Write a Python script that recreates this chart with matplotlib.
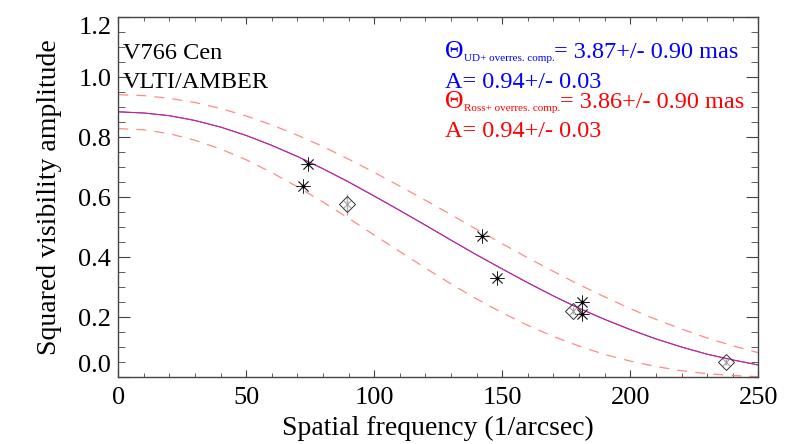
import matplotlib
matplotlib.use('Agg')
import matplotlib.pyplot as plt
from matplotlib.ticker import MultipleLocator

plt.rcParams['font.family'] = ['Liberation Serif', 'DejaVu Serif']

freq_model = list(range(0, 260, 10))
v2_fit = [0.884, 0.880, 0.871, 0.855, 0.833, 0.805, 0.772, 0.735, 0.694, 0.650,
          0.603, 0.555, 0.506, 0.456, 0.407, 0.360, 0.314, 0.270, 0.229, 0.192,
          0.158, 0.127, 0.100, 0.076, 0.057, 0.040]
v2_upper = [0.941, 0.938, 0.929, 0.915, 0.895, 0.870, 0.840, 0.806, 0.768, 0.726,
            0.682, 0.636, 0.589, 0.541, 0.492, 0.444, 0.397, 0.352, 0.308, 0.267,
            0.228, 0.192, 0.160, 0.130, 0.104, 0.081]
v2_lower = [0.828, 0.824, 0.811, 0.789, 0.760, 0.724, 0.681, 0.634, 0.583, 0.529,
            0.473, 0.418, 0.363, 0.310, 0.260, 0.214, 0.172, 0.135, 0.103, 0.075,
            0.053, 0.035, 0.021, 0.011, 0.005, 0.001]

# measured squared visibilities
ast_freq = [72.0, 74.2, 141.9, 147.8, 181.0, 181.3]
ast_v2 = [0.637, 0.709, 0.470, 0.329, 0.251, 0.210]
ast_err = [0.010, 0.008, 0.015, 0.008, 0.012, 0.010]
dia_freq = [89.5, 177.7, 237.4]
dia_v2 = [0.576, 0.221, 0.051]
dia_err = [0.035, 0.012, 0.010]

fig = plt.figure(figsize=(7.89, 4.44), dpi=100)
ax = fig.add_axes([0.1499, 0.1509, 0.8112, 0.8108])

ax.plot(freq_model, v2_upper, color='#ff8a8a', lw=0.9, dashes=(8, 6.5))
ax.plot(freq_model, v2_lower, color='#ff8a8a', lw=0.9, dashes=(8, 6.5))
ax.plot(freq_model, v2_fit, color='blue', lw=0.7)
ax.plot(freq_model, v2_fit, color='#ff2a6a', lw=0.8, alpha=0.8)

ax.errorbar(ast_freq, ast_v2, yerr=ast_err, fmt='none', ecolor='#aaaaaa', elinewidth=1)
ax.errorbar(dia_freq, dia_v2, yerr=dia_err, fmt='none', ecolor='#aaaaaa', elinewidth=1)
ax.plot(ast_freq, ast_v2, ls='none', marker=(8, 2, 0), ms=10, mew=0.6, color='#222222')
ax.plot(ast_freq, ast_v2, ls='none', marker='s', ms=2, color='black')
ax.plot(dia_freq, dia_v2, ls='none', marker='x', ms=5.5, mew=0.7, color='#999999')
ax.plot(dia_freq, dia_v2, ls='none', marker='D', ms=8, mew=0.7, mfc='none', mec='#333333')

ax.set_xlim(0, 250)
ax.set_ylim(0, 1.2)
ax.set_xticks([0, 50, 100, 150, 200, 250])
ax.set_yticks([0.0, 0.2, 0.4, 0.6, 0.8, 1.0, 1.2])
ax.set_yticklabels(['0.0', '0.2', '0.4', '0.6', '0.8', '1.0', '1.2'])
ax.xaxis.set_minor_locator(MultipleLocator(10))
ax.yaxis.set_minor_locator(MultipleLocator(0.05))
ax.tick_params(which='both', direction='in', top=True, right=True, color='#444444')
ax.tick_params(axis='x', which='major', length=5, labelsize=19, pad=7)
ax.tick_params(axis='x', which='minor', length=3)
ax.tick_params(axis='y', which='major', length=8.5, labelsize=19, pad=5)
ax.tick_params(axis='y', which='minor', length=4.7)
ylabs = ax.get_yticklabels()
ylabs[0].set_va('bottom')
ylabs[-1].set_va('top')
for sp in ax.spines.values():
    sp.set_color('#444444')
    sp.set_linewidth(1.0)

ax.set_xlabel('Spatial frequency (1/arcsec)', fontsize=20, labelpad=5)
ax.set_ylabel('Squared visibility amplitude', fontsize=20, labelpad=12)

ax.text(0.007, 0.8825, 'V766 Cen', fontsize=17.5, transform=ax.transAxes, va='baseline')
ax.text(0.007, 0.802, 'VLTI/AMBER', fontsize=17.5, transform=ax.transAxes, va='baseline')


def theta_line(y, sub, rest, col):
    t = ax.text(0.5105, y, 'Θ', color=col, fontsize=18.5, transform=ax.transAxes, va='baseline')
    s = ax.annotate(sub, xy=(1, 0), xycoords=t, color=col, fontsize=8, va='bottom', ha='left')
    ax.annotate(rest, xy=(1, 0), xycoords=(s, t), color=col, fontsize=17.5, va='bottom', ha='left')


theta_line(0.8853, 'UD+ overres. comp.', '= 3.87+/- 0.90 mas', 'blue')
ax.text(0.5105, 0.8036, 'A= 0.94+/- 0.03', color='blue', fontsize=17.5, transform=ax.transAxes, va='baseline')
theta_line(0.7464, 'Ross+ overres. comp.', '= 3.86+/- 0.90 mas', 'red')
ax.text(0.5105, 0.6675, 'A= 0.94+/- 0.03', color='red', fontsize=17.5, transform=ax.transAxes, va='baseline')

fig.savefig('out.png', dpi=100)
